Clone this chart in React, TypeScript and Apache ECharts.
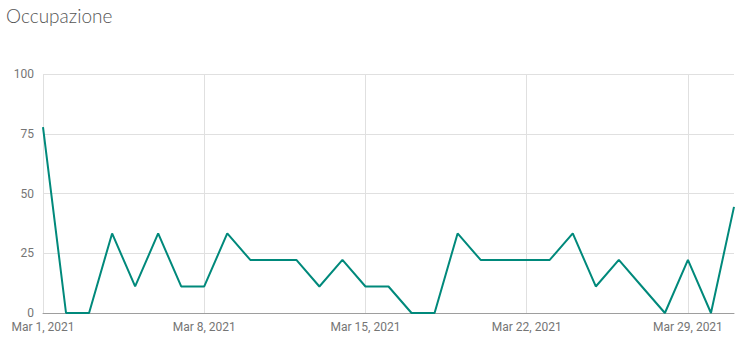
import React, { useEffect, useRef } from "react";
import * as echarts from "echarts";

const categories: string[] = Array.from({ length: 31 }, (_, i) => `Mar ${i + 1}, 2021`);
const occupancy: number[] = [
  77.8, 0, 0, 33.3, 11.1, 33.3, 11.1, 11.1, 33.3, 22.2,
  22.2, 22.2, 11.1, 22.2, 11.1, 11.1, 0, 0, 33.3, 22.2,
  22.2, 22.2, 22.2, 33.3, 11.1, 22.2, 11.1, 0, 22.2, 0,
  44.4,
];
const yTicks = { min: 0, max: 100, interval: 25 };

export default function App() {
  const ref = useRef<HTMLDivElement>(null);
  useEffect(() => {
    const chart = echarts.init(ref.current!, null, { renderer: "svg" });
    chart.setOption({
      animation: false,
      title: {
        text: "Occupazione",
        left: 1,
        top: 1,
        textStyle: {
          fontFamily: "Lato",
          fontWeight: 300,
          fontSize: 19,
          color: "#555555",
        },
      },
      grid: { left: 43, right: 2, top: 74, bottom: 27 },
      xAxis: {
        type: "category",
        data: categories,
        boundaryGap: false,
        axisLine: { show: true, lineStyle: { color: "#9e9e9e", width: 1 } },
        axisTick: { show: false },
        axisLabel: {
          interval: 6,
          color: "#757575",
          fontFamily: "Roboto",
          fontSize: 12,
          margin: 8,
        },
        splitLine: { show: true, interval: 6, lineStyle: { color: "#e0e0e0", width: 1 } },
      },
      yAxis: {
        type: "value",
        min: yTicks.min,
        max: yTicks.max,
        interval: yTicks.interval,
        axisLine: { show: false },
        axisTick: { show: false },
        axisLabel: {
          color: "#757575",
          fontFamily: "Roboto",
          fontSize: 12,
          margin: 9,
        },
        splitLine: { show: true, lineStyle: { color: "#e0e0e0", width: 1 } },
      },
      series: [
        {
          type: "line",
          data: occupancy,
          showSymbol: false,
          symbol: "none",
          lineStyle: { color: "#00897b", width: 2 },
          itemStyle: { color: "#00897b" },
        },
      ],
    });
    return () => chart.dispose();
  }, []);
  return <div ref={ref} style={{ width: 736, height: 340, position: "absolute", left: 0, top: 0 }} />;
}
